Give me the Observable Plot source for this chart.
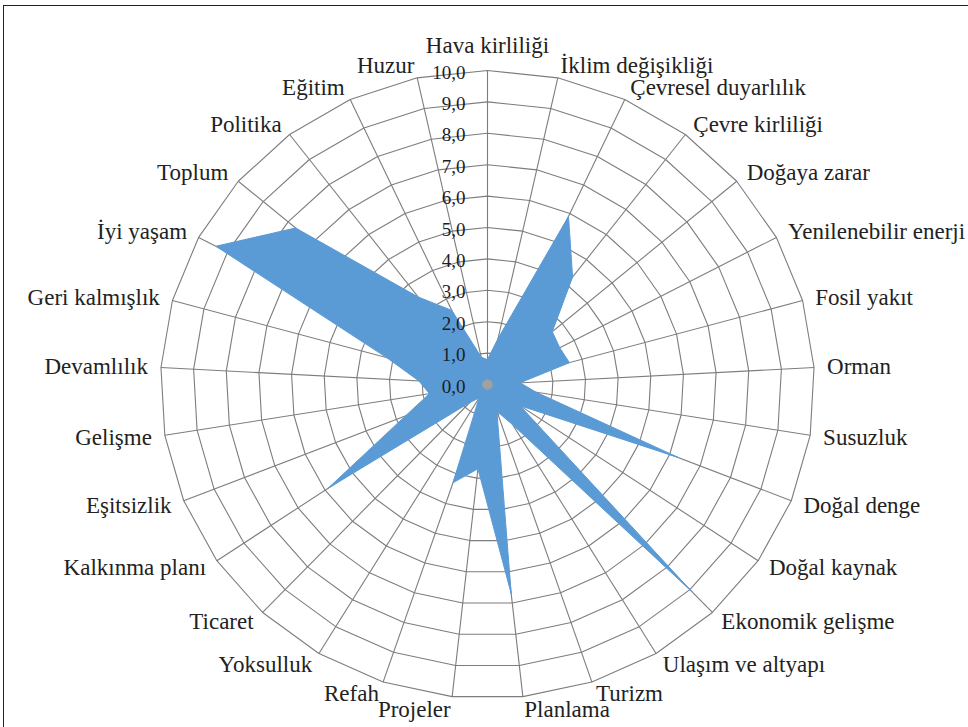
<!DOCTYPE html>
<html><head><meta charset="utf-8">
<script src="https://cdn.jsdelivr.net/npm/d3@7"></script>
<script src="https://cdn.jsdelivr.net/npm/@observablehq/plot@0.6"></script>
<style>
html,body{margin:0;padding:0;background:#fff;overflow:hidden;}
#wrap{position:relative;width:968px;height:727px;overflow:hidden;}
#frame{position:absolute;left:3px;top:5px;width:1000px;height:800px;border-left:1.5px solid #222;border-top:1.5px solid #222;pointer-events:none;}
svg text{font-family:"Liberation Serif","DejaVu Serif","Times New Roman",serif !important;}
</style></head><body>
<div id="wrap"><div id="chart"></div><div id="frame"></div></div>
<script>
const categories = ["Hava kirliliği","İklim değişikliği","Çevresel duyarlılık","Çevre kirliliği","Doğaya zarar","Yenilenebilir enerji","Fosil yakıt","Orman","Susuzluk","Doğal denge","Doğal kaynak","Ekonomik gelişme","Ulaşım ve altyapı","Turizm","Planlama","Projeler","Refah","Yoksulluk","Ticaret","Kalkınma planı","Eşitsizlik","Gelişme","Devamlılık","Geri kalmışlık","İyi yaşam","Toplum","Politika","Eğitim","Huzur"];
const values = [0.8,1.5,5.9,4.3,2.6,2.5,2.6,1.0,1.5,6.3,1.2,9.1,1.5,0.9,6.7,2.7,3.3,0.5,0.8,5.9,2.7,1.8,2.1,3.2,9.4,7.7,3.5,2.6,0.9];
const centerValues = [0.15,0.15,0.15,0.15,0.15,0.15,0.15,0.15,0.15,0.15,0.15,0.15,0.15,0.15,0.15,0.15,0.15,0.15,0.15,0.15,0.15,0.15,0.15,0.15,0.15,0.15,0.15,0.15,0.15];
const tickValues = [0,1,2,3,4,5,6,7,8,9,10];
const tickLabels = ["0,0","1,0","2,0","3,0","4,0","5,0","6,0","7,0","8,0","9,0","10,0"];

const n = categories.length;
const ang = i => i * 2 * Math.PI / n;
const maxV = 10;
const labelR = 10.4;

const gridData = [];
tickValues.filter(v => v > 0).forEach(v => {
  categories.forEach((c, i) => gridData.push({level: v, x: v * Math.sin(ang(i)), y: v * Math.cos(ang(i))}));
});
const spokes = categories.map((c, i) => ({x2: maxV * Math.sin(ang(i)), y2: maxV * Math.cos(ang(i))}));
const series = values.map((v, i) => ({x: v * Math.sin(ang(i)), y: v * Math.cos(ang(i))}));
const center = centerValues.map((v, i) => ({x: v * Math.sin(ang(i)), y: v * Math.cos(ang(i))}));
const labels = categories.map((c, i) => ({name: c, s: Math.sin(ang(i)), x: labelR * Math.sin(ang(i)), y: labelR * Math.cos(ang(i))}));
const ticks = tickValues.map((v, i) => ({v, label: tickLabels[i]}));

const font = "Liberation Serif";
const cx = 487, cy = 384, rx = 327, ry = 314;

const chart = Plot.plot({
  width: 968, height: 727,
  margin: 0,
  x: {domain: [-maxV, maxV], range: [cx - rx, cx + rx], axis: null},
  y: {domain: [-maxV, maxV], range: [cy + ry, cy - ry], axis: null},
  style: {fontFamily: font, background: "#fff"},
  marks: [
    Plot.line(gridData, {x: "x", y: "y", z: "level", curve: "linear-closed", stroke: "#7d7d7d", strokeWidth: 1.1}),
    Plot.link(spokes, {x1: 0, y1: 0, x2: "x2", y2: "y2", stroke: "#7d7d7d", strokeWidth: 1.1}),
    Plot.line(series, {x: "x", y: "y", curve: "linear-closed", fill: "#5B9BD5", stroke: "#5B9BD5", strokeWidth: 1}),
    Plot.line(center, {x: "x", y: "y", curve: "linear-closed", fill: "#a0a0a0", stroke: "#a0a0a0", strokeWidth: 1}),
    Plot.text(ticks, {x: 0, y: "v", text: "label", textAnchor: "end", dx: -22, dy: 2, fontSize: 19, fontFamily: font, fill: "#1c1c2a"}),
    Plot.text(labels.filter(d => Math.abs(d.s) < 0.05), {x: "x", y: "y", text: "name", textAnchor: "middle", dy: -12, fontSize: 23, fontFamily: font, fill: "#222"}),
    Plot.text(labels.filter(d => d.s >= 0.05), {x: "x", y: "y", text: "name", textAnchor: "start", fontSize: 23, fontFamily: font, fill: "#222"}),
    Plot.text(labels.filter(d => d.s <= -0.05), {x: "x", y: "y", text: "name", textAnchor: "end", fontSize: 23, fontFamily: font, fill: "#222"})
  ]
});
document.getElementById("chart").appendChild(chart);
</script>
</body></html>
